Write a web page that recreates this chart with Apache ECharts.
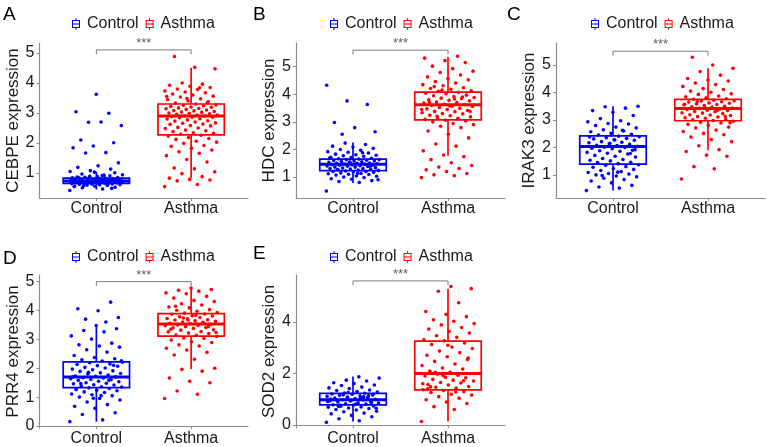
<!DOCTYPE html>
<html>
<head>
<meta charset="UTF-8">
<title>Gene expression boxplots</title>
<style>
body {
    padding:0;
    border:0;
    margin:0;
}
</style>
<script src="https://cdn.jsdelivr.net/npm/echarts@6/dist/echarts.min.js"></script>
</head>
<body>
<div id="main" style="width:767px;height:447px;"></div>
<script>
// groups shown in every panel
var groups = ['Control', 'Asthma'];

// box stats: [min, Q1, median, Q3, max]
var boxCEBPE = [[0.45, 0.66, 0.74, 0.83, 1.05], [0.83, 2.27, 2.9, 3.3, 4.51]];
var boxHDC   = [[0.78, 1.23, 1.46, 1.65, 2.25], [1.77, 3.07, 3.62, 4.08, 5.35]];
var boxIRAK3 = [[0.43, 1.39, 2.03, 2.42, 3.5],  [1.9, 2.97, 3.42, 3.75, 4.88]];
var boxPRR4  = [[0.15, 1.33, 1.7, 2.22, 3.48],  [1.97, 3.11, 3.53, 3.89, 4.78]];
var boxSOD2  = [[0.13, 0.78, 0.98, 1.23, 1.88], [0.13, 1.36, 2.0, 3.26, 5.3]];

// individual samples (estimated)
var ctrlCEBPE = [0.42,0.47,0.51,0.53,0.56,0.57,0.59,0.6,0.61,0.61,0.62,0.64,0.63,0.65,0.66,0.65,0.67,0.66,0.68,0.67,
  0.69,0.68,0.7,0.69,0.71,0.7,0.72,0.71,0.73,0.72,0.74,0.73,0.75,0.73,0.74,0.76,0.74,0.77,0.75,0.78,0.76,0.79,0.77,
  0.81,0.78,0.82,0.8,0.84,0.83,0.86,0.85,0.88,0.87,0.91,0.89,0.94,0.92,0.97,1.01,1.03,0.55,0.64,0.71,0.76,0.79,0.84,
  0.49,0.69,0.77,0.93,0.58,0.81,
  3.62,3.04,2.99,2.69,2.58,2.7,2.1,2.01,1.9,1.84,1.68,1.67,1.34,1.24,1.19,1.13,1.08,1.05];
var asthCEBPE = [0.55,0.62,0.74,0.77,0.79,0.83,0.88,0.98,1.04,1.14,1.17,1.37,1.45,1.58,1.66,1.71,1.77,1.83,1.89,1.92,
  1.99,2.03,2.06,2.12,2.15,2.18,2.23,2.26,2.29,2.32,2.34,2.38,2.41,2.43,2.48,2.5,2.52,2.57,2.58,2.62,2.63,2.66,2.67,
  2.7,2.73,2.74,2.77,2.8,2.81,2.84,2.86,2.86,2.88,2.9,2.91,2.93,2.93,2.96,2.97,2.99,3.0,3.02,3.03,3.05,3.07,3.08,3.1,
  3.12,3.14,3.15,3.17,3.19,3.2,3.22,3.24,3.26,3.27,3.3,3.33,3.37,3.4,3.45,3.47,3.53,3.56,3.6,3.63,3.67,3.7,3.73,3.78,
  3.8,3.85,3.89,3.92,3.96,4.0,4.47,4.52,4.88,3.34,3.48,3.55,3.84];
var ctrlHDC = [0.49,0.8,0.84,0.87,0.92,0.94,0.98,1.0,1.03,1.04,1.07,1.09,1.1,1.12,1.13,1.15,1.17,1.18,1.2,1.2,1.22,1.24,
  1.25,1.27,1.28,1.29,1.31,1.31,1.33,1.34,1.36,1.36,1.38,1.39,1.4,1.41,1.43,1.43,1.44,1.45,1.46,1.47,1.48,1.5,1.5,1.51,
  1.53,1.53,1.55,1.56,1.58,1.58,1.6,1.61,1.63,1.63,1.65,1.66,1.68,1.71,1.72,1.75,1.77,1.79,1.81,1.83,1.87,1.9,1.92,
  1.97,2.0,2.04,2.09,2.12,2.18,2.23,0.9,1.13,1.27,1.39,1.54,1.69,1.88,
  2.55,2.64,2.79,2.98,3.63,3.76,4.33];
var asthHDC = [0.98,1.05,1.08,1.13,1.2,1.26,1.31,1.36,1.42,1.52,1.63,1.74,1.8,1.95,2.12,2.2,2.42,2.55,2.67,2.79,2.84,
  2.9,2.94,3.0,3.03,3.06,3.09,3.13,3.14,3.18,3.22,3.24,3.29,3.3,3.33,3.37,3.38,3.41,3.45,3.47,3.49,3.52,3.56,3.57,3.6,
  3.63,3.64,3.68,3.7,3.72,3.76,3.78,3.8,3.85,3.86,3.88,3.92,3.95,3.97,4.02,4.04,4.07,4.11,4.13,4.18,4.21,4.24,4.31,
  4.35,4.41,4.46,4.53,4.57,4.63,4.7,4.79,4.84,4.93,5.02,5.15,5.22,5.31,5.38,3.2,3.38,3.58,3.71,3.9,4.15,3.45,3.83,4.28];
var ctrlIRAK3 = [0.43,0.52,0.56,0.62,0.71,0.78,0.83,0.88,0.93,0.96,1.0,1.03,1.05,1.09,1.12,1.16,1.2,1.23,1.28,1.3,1.35,
  1.37,1.41,1.43,1.46,1.51,1.53,1.56,1.6,1.65,1.68,1.71,1.76,1.79,1.82,1.86,1.88,1.9,1.95,1.97,2.0,2.01,2.04,2.07,
  2.08,2.11,2.13,2.17,2.19,2.21,2.26,2.28,2.31,2.33,2.35,2.39,2.41,2.45,2.48,2.51,2.57,2.6,2.64,2.71,2.74,2.8,2.85,
  2.87,2.93,2.97,3.05,3.16,3.28,3.34,3.43,3.48,3.5,1.1,1.45,1.78,2.15,2.38,2.62,0.98,1.92,2.27];
var asthIRAK3 = [0.85,1.22,1.3,1.68,1.72,1.85,1.92,2.06,2.21,2.29,2.38,2.46,2.51,2.58,2.63,2.71,2.74,2.81,2.84,2.89,
  2.92,2.95,2.98,3.01,3.02,3.06,3.08,3.11,3.12,3.16,3.18,3.19,3.23,3.25,3.26,3.3,3.31,3.34,3.35,3.38,3.4,3.42,3.43,
  3.47,3.48,3.5,3.52,3.55,3.56,3.58,3.61,3.62,3.65,3.66,3.69,3.7,3.72,3.75,3.77,3.81,3.84,3.87,3.93,3.95,4.01,4.05,
  4.11,4.14,4.22,4.29,4.34,4.42,4.45,4.51,4.63,4.76,4.88,5.0,5.28,3.12,3.45,3.57,3.35,3.67,2.9];
var ctrlPRR4 = [0.15,0.21,0.4,0.46,0.61,0.68,0.74,0.83,0.9,0.95,1.0,1.05,1.08,1.11,1.16,1.18,1.22,1.24,1.28,1.3,1.32,
  1.35,1.36,1.39,1.42,1.43,1.46,1.48,1.5,1.53,1.55,1.58,1.6,1.61,1.64,1.66,1.67,1.7,1.72,1.73,1.76,1.8,1.82,1.84,
  1.89,1.91,1.95,1.97,2.01,2.03,2.07,2.09,2.13,2.15,2.19,2.21,2.25,2.29,2.33,2.37,2.44,2.56,2.64,2.73,2.77,2.81,2.87,
  3.01,3.12,3.26,3.31,3.37,3.48,1.26,1.58,1.86,2.26,1.05,1.47,2.1,0.96,1.7,
  3.6,3.7,3.76,3.99,4.06,4.29];
var asthPRR4 = [0.95,1.1,1.21,1.5,1.55,1.66,1.9,1.96,2.0,2.31,2.46,2.55,2.63,2.69,2.77,2.81,2.89,2.92,2.98,3.03,3.05,
  3.1,3.14,3.15,3.2,3.22,3.26,3.27,3.32,3.33,3.38,3.4,3.41,3.44,3.47,3.48,3.5,3.52,3.55,3.56,3.59,3.6,3.63,3.64,3.67,
  3.68,3.71,3.72,3.76,3.78,3.81,3.82,3.87,3.88,3.91,3.93,3.97,4.01,4.03,4.09,4.12,4.19,4.23,4.31,4.35,4.43,4.49,
  4.58,4.61,4.67,4.7,4.73,4.78,3.35,3.57,3.74,3.24,3.84,4.15,3.45,3.67];
var ctrlSOD2 = [0.1,0.16,0.24,0.32,0.37,0.43,0.46,0.51,0.53,0.58,0.6,0.64,0.66,0.69,0.7,0.73,0.74,0.77,0.78,0.81,0.82,
  0.85,0.86,0.89,0.9,0.93,0.94,0.97,0.98,1.0,1.03,1.04,1.07,1.08,1.11,1.12,1.15,1.16,1.19,1.2,1.23,1.24,1.28,1.3,
  1.34,1.36,1.41,1.44,1.47,1.53,1.55,1.61,1.64,1.71,1.74,1.82,1.87,0.73,0.87,0.95,1.01,1.09,1.17,0.65,0.81,0.99,
  1.13,1.26,0.91,1.05,0.77,1.19];
var asthSOD2 = [0.13,0.6,0.71,0.83,0.89,0.98,1.04,1.1,1.16,1.19,1.26,1.29,1.34,1.37,1.43,1.46,1.49,1.55,1.57,1.63,
  1.65,1.71,1.74,1.77,1.83,1.85,1.9,1.93,1.97,2.0,2.05,2.09,2.17,2.21,2.31,2.37,2.47,2.54,2.65,2.71,2.81,2.87,2.97,
  3.03,3.13,3.19,3.27,3.31,3.41,3.47,3.57,3.63,3.73,3.79,3.89,3.94,4.03,4.09,4.21,4.3,4.41,4.75,5.2,5.3,5.38,1.48,
  1.72,1.92,1.6,1.28,2.05,2.6,3.1,1.4];

// y tick labels per panel
var ticksCEBPE = [1, 2, 3, 4, 5];
var ticksHDC   = [1, 2, 3, 4, 5];
var ticksIRAK3 = [1, 2, 3, 4, 5];
var ticksPRR4  = [0, 1, 2, 3, 4, 5];
var ticksSOD2  = [0, 2, 4];

var colors = ['#0000ff', '#ff0000'];
var font = '"Liberation Sans", Arial, sans-serif';
var boxIcon = 'path://M7 0L9 0L9 4L7 4Z M0 4L16 4L16 6L0 6Z M0 18L16 18L16 20L0 20Z M0 4L2 4L2 20L0 20Z M14 4L16 4L16 20L14 20Z M0 11L16 11L16 13L0 13Z M7 20L9 20L9 24L7 24Z';

var panels = [
  {gene: 'CEBPE', letter: 'A', box: boxCEBPE, pts: [ctrlCEBPE, asthCEBPE], ticks: ticksCEBPE,
   rect: [39.5, 43, 208.5, 155], yr: [0.17, 5.33], tpos: [3, 5], lpos: [72, 16]},
  {gene: 'HDC', letter: 'B', box: boxHDC, pts: [ctrlHDC, asthHDC], ticks: ticksHDC,
   rect: [296, 43, 209, 155], yr: [0.24, 5.86], tpos: [253, 5], lpos: [330, 16]},
  {gene: 'IRAK3', letter: 'C', box: boxIRAK3, pts: [ctrlIRAK3, asthIRAK3], ticks: ticksIRAK3,
   rect: [556, 43, 209, 155], yr: [0.16, 5.8], tpos: [507, 5], lpos: [591, 16]},
  {gene: 'PRR4', letter: 'D', box: boxPRR4, pts: [ctrlPRR4, asthPRR4], ticks: ticksPRR4,
   rect: [39.5, 275, 208.5, 153], yr: [-0.07, 5.23], tpos: [3, 249], lpos: [72, 249]},
  {gene: 'SOD2', letter: 'E', box: boxSOD2, pts: [ctrlSOD2, asthSOD2], ticks: ticksSOD2,
   rect: [296, 275, 209, 153], yr: [-0.12, 5.83], tpos: [253, 244], lpos: [330, 249]}
];

// spread points sideways, like geom_jitter but repeatable
function jitter(i) {
  return ((i * 0.618034) % 1 - 0.5) * 0.56;
}

function renderBox(params, api) {
  var x = api.value(0);
  var hw = api.size([0.35, 0])[0];
  var pMin = api.coord([x, api.value(1)]);
  var pQ1 = api.coord([x, api.value(2)]);
  var pMed = api.coord([x, api.value(3)]);
  var pQ3 = api.coord([x, api.value(4)]);
  var pMax = api.coord([x, api.value(5)]);
  var c = api.visual('color');
  var st = {stroke: c, fill: 'none', lineWidth: 1.7};
  return {type: 'group', children: [
    {type: 'line', shape: {x1: pMin[0], y1: pMin[1], x2: pQ1[0], y2: pQ1[1]}, style: st},
    {type: 'line', shape: {x1: pQ3[0], y1: pQ3[1], x2: pMax[0], y2: pMax[1]}, style: st},
    {type: 'rect', shape: {x: pQ3[0] - hw, y: pQ3[1], width: 2 * hw, height: pQ1[1] - pQ3[1]}, style: st},
    {type: 'line', shape: {x1: pMed[0] - hw, y1: pMed[1], x2: pMed[0] + hw, y2: pMed[1]},
     style: {stroke: c, lineWidth: 3}}
  ]};
}

var option = {
  animation: false,
  textStyle: {fontFamily: font},
  title: [], legend: [], grid: [], xAxis: [], yAxis: [], series: []
};

panels.forEach(function (p, k) {
  option.title.push({text: p.letter, left: p.tpos[0], top: p.tpos[1], padding: 0,
    textStyle: {fontSize: 19, fontWeight: 'normal', color: '#000', fontFamily: font}});
  option.legend.push({data: groups, left: p.lpos[0], top: p.lpos[1], icon: boxIcon, itemWidth: 8, itemHeight: 12,
    itemGap: 7, padding: 0, selectedMode: false,
    textStyle: {fontSize: 16, color: '#1a1a1a', padding: [0, 0, 0, 2], fontFamily: font}});
  option.grid.push({left: p.rect[0], top: p.rect[1], width: p.rect[2], height: p.rect[3]});
  option.xAxis.push({type: 'value', gridIndex: k, min: 0.4, max: 2.6,
    axisLine: {lineStyle: {color: '#8c8c8c', width: 1.2}},
    axisTick: {show: true, length: 3, customValues: [1, 2], lineStyle: {color: '#8c8c8c'}},
    axisLabel: {customValues: [1, 2], fontSize: 16, color: '#1a1a1a', margin: 3,
      formatter: function (v) { return groups[Math.round(v) - 1]; }},
    splitLine: {show: false}});
  option.yAxis.push({type: 'value', gridIndex: k, min: p.yr[0], max: p.yr[1],
    name: p.gene + ' expression', nameLocation: 'middle', nameGap: 17, nameRotate: 90,
    nameTextStyle: {fontSize: 17, color: '#1a1a1a'},
    axisLine: {show: true, lineStyle: {color: '#8c8c8c', width: 1.2}},
    axisTick: {show: true, length: 3, customValues: p.ticks, lineStyle: {color: '#8c8c8c'}},
    axisLabel: {customValues: p.ticks, fontSize: 16, color: '#1a1a1a', margin: 5},
    splitLine: {show: false}});

  groups.forEach(function (g, j) {
    var b = p.box[j];
    option.series.push({name: g, type: 'custom', xAxisIndex: k, yAxisIndex: k,
      itemStyle: {color: colors[j]}, renderItem: renderBox,
      encode: {x: 0, y: [1, 2, 3, 4, 5]},
      data: [[j + 1, b[0], b[1], b[2], b[3], b[4]]], z: 2});
    option.series.push({name: g, type: 'scatter', xAxisIndex: k, yAxisIndex: k,
      symbolSize: 3.6, itemStyle: {color: colors[j], opacity: 1}, z: 3, silent: true,
      data: p.pts[j].map(function (v, i) { return [j + 1 + jitter(i), v]; })});
  });

  // significance bracket above the highest sample
  var top = Math.max(Math.max.apply(null, p.pts[0]), Math.max.apply(null, p.pts[1])) + 0.22;
  var drop = (p.yr[1] - p.yr[0]) * 0.028;
  option.series.push({type: 'line', xAxisIndex: k, yAxisIndex: k, symbol: 'none', silent: true, z: 4,
    lineStyle: {color: '#7a7a7a', width: 1},
    data: [[1, top - drop], [1, top], [2, top], [2, top - drop]]});
  option.series.push({type: 'scatter', xAxisIndex: k, yAxisIndex: k, symbolSize: 0, silent: true, z: 4,
    label: {show: true, position: 'top', distance: 0, formatter: '***', fontSize: 13, color: '#333'},
    data: [[1.5, top]]});
});

var myChart = echarts.init(document.getElementById('main'));
myChart.setOption(option);
</script>
</body>
</html>
